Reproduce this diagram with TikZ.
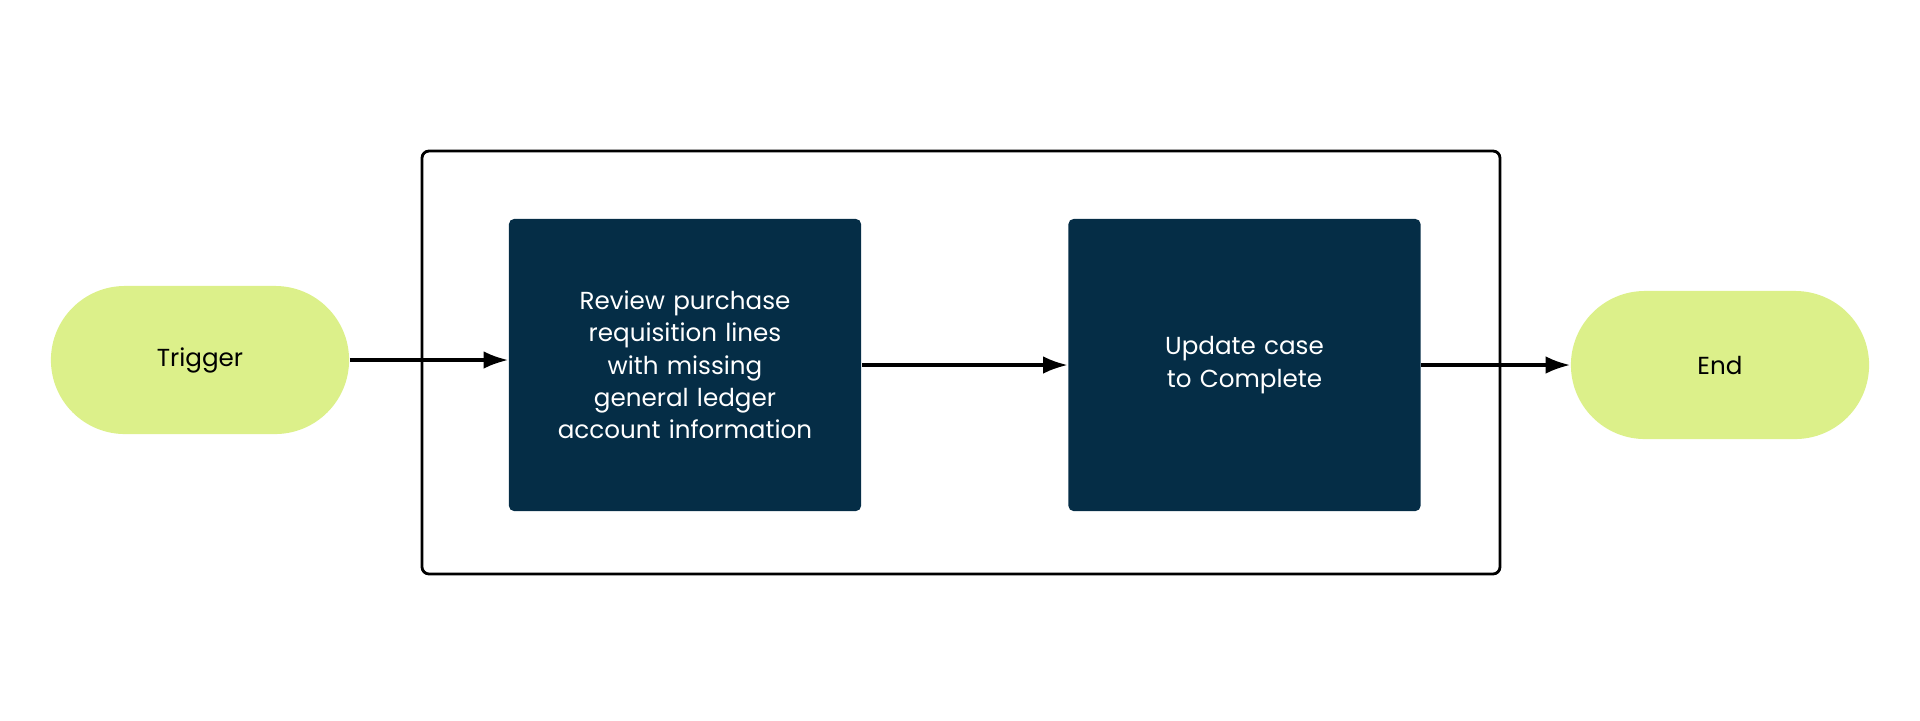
\documentclass[tikz,border=0pt]{standalone}
\usepackage{fontspec}
\setmainfont{Poppins}
\usetikzlibrary{arrows.meta,positioning}
\definecolor{pillgreen}{RGB}{220,240,138}
\definecolor{stepnavy}{RGB}{5,45,70}

\begin{document}
\begin{tikzpicture}[
        x=0.01cm, y=-0.01cm,
        font=\fontsize{7}{9.2}\selectfont,
        pill/.style={rectangle, rounded corners=0.74cm, fill=pillgreen, minimum width=2.98cm, minimum height=1.48cm, align=center},
        task/.style={rectangle, rounded corners=1.5pt, fill=stepnavy, text=white, minimum width=3.52cm, minimum height=2.92cm, text width=2.6cm, align=center},
        arrow/.style={-{Latex[length=7pt,width=5pt]}, line width=0.9pt}
    ]
        \useasboundingbox (0,0) rectangle (1920,720);
        \draw[line width=0.8pt, rounded corners=2pt] (422,151) rectangle (1500,574);

        \node[pill] (trigger) at (200,360) {Trigger};
        \node[task] (review) at (685,365) {Review purchase requisition lines with missing general ledger account information};
        \node[task] (update) at (1244.5,365) {Update case to Complete};
        \node[pill] (end) at (1720,365) {End};

        \draw[arrow] (trigger.east) -- (trigger.east -| review.west);
        \draw[arrow] (review.east) -- (update.west);
        \draw[arrow] (update.east) -- (end.west);
    \end{tikzpicture}
\end{document}
